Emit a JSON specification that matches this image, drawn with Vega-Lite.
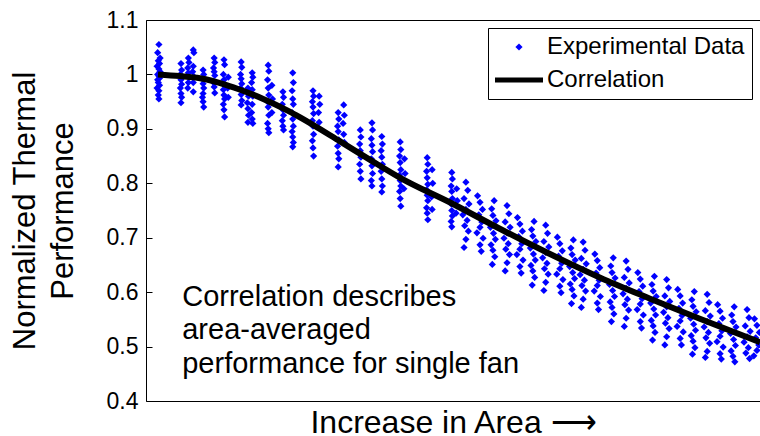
{
"$schema":"https://vega.github.io/schema/vega-lite/v6.json",
"autosize":{"type":"none"},
"padding":{"left":146,"top":20,"right":0,"bottom":35},
"width":614,
"height":381,
"background":"white",
"config":{"font":"Liberation Sans","view":{"stroke":null},"axis":{"labelColor":"black","titleColor":"black","titleFontWeight":"normal","grid":false,"domainColor":"black","tickColor":"black"}},
"datasets":{
"experimental":[
{"x":2.1,"y":1.055},{"x":1.9,"y":1.040},{"x":2.3,"y":1.030},{"x":2.0,"y":1.025},{"x":2.2,"y":1.020},{"x":1.8,"y":1.015},{"x":2.1,"y":1.010},{"x":2.3,"y":1.005},{"x":1.9,"y":1.000},{"x":2.1,"y":0.997},{"x":2.2,"y":0.993},{"x":1.9,"y":0.990},{"x":2.0,"y":0.985},{"x":2.2,"y":0.980},{"x":1.8,"y":0.975},{"x":2.1,"y":0.970},{"x":2.0,"y":0.962},{"x":2.1,"y":0.955},
{"x":5.7,"y":1.020},{"x":5.8,"y":1.008},{"x":5.6,"y":1.000},{"x":5.7,"y":0.990},{"x":5.8,"y":0.982},{"x":5.6,"y":0.975},{"x":5.7,"y":0.965},{"x":5.8,"y":0.958},{"x":5.7,"y":0.948},
{"x":6.9,"y":1.030},{"x":7.0,"y":1.022},{"x":6.8,"y":1.012},{"x":6.9,"y":1.003},{"x":7.0,"y":0.995},{"x":6.9,"y":0.985},{"x":6.8,"y":0.975},
{"x":7.7,"y":1.045},{"x":7.8,"y":1.040},{"x":7.7,"y":1.015},{"x":7.6,"y":1.005},{"x":7.8,"y":0.996},{"x":7.7,"y":0.985},{"x":7.7,"y":0.968},
{"x":9.3,"y":1.008},{"x":9.4,"y":1.000},{"x":9.2,"y":0.992},{"x":9.3,"y":0.983},{"x":9.4,"y":0.975},{"x":9.3,"y":0.965},{"x":9.2,"y":0.958},{"x":9.3,"y":0.950},{"x":9.4,"y":0.940},
{"x":11.1,"y":1.030},{"x":11.2,"y":1.022},{"x":11.0,"y":1.012},{"x":11.1,"y":1.005},{"x":11.2,"y":0.998},{"x":11.0,"y":0.985},{"x":11.1,"y":0.977},{"x":11.2,"y":0.966},
{"x":12.7,"y":1.027},{"x":12.8,"y":1.018},{"x":12.6,"y":1.000},{"x":12.7,"y":0.990},{"x":12.8,"y":0.980},{"x":12.6,"y":0.972},{"x":12.7,"y":0.962},{"x":12.8,"y":0.955},{"x":12.6,"y":0.945},{"x":12.7,"y":0.935},{"x":12.8,"y":0.922},
{"x":13.4,"y":0.995},{"x":13.3,"y":0.975},{"x":13.4,"y":0.958},
{"x":15.5,"y":1.023},{"x":15.6,"y":1.013},{"x":15.4,"y":1.000},{"x":15.5,"y":0.992},{"x":15.6,"y":0.983},{"x":15.4,"y":0.975},{"x":15.5,"y":0.963},{"x":15.6,"y":0.952},{"x":15.5,"y":0.944},
{"x":16.6,"y":0.975},{"x":16.7,"y":0.960},{"x":16.5,"y":0.948},{"x":16.6,"y":0.937},{"x":16.7,"y":0.925},{"x":16.6,"y":0.912},
{"x":17.3,"y":1.003},{"x":17.4,"y":0.995},{"x":17.2,"y":0.985},{"x":17.3,"y":0.972},{"x":17.4,"y":0.960},{"x":17.3,"y":0.945},{"x":17.2,"y":0.930},{"x":17.3,"y":0.918},{"x":17.4,"y":0.910},
{"x":19.9,"y":1.017},{"x":20.0,"y":1.006},{"x":19.8,"y":0.990},{"x":19.9,"y":0.975},{"x":20.0,"y":0.962},{"x":19.8,"y":0.950},{"x":19.9,"y":0.940},{"x":20.0,"y":0.925},{"x":19.8,"y":0.910},{"x":19.9,"y":0.900},{"x":20.0,"y":0.893},
{"x":20.5,"y":0.980},{"x":20.6,"y":0.955},{"x":20.5,"y":0.930},
{"x":22.3,"y":0.968},{"x":22.4,"y":0.958},{"x":22.2,"y":0.945},{"x":22.3,"y":0.935},{"x":22.4,"y":0.925},{"x":22.2,"y":0.915},{"x":22.3,"y":0.905},{"x":22.4,"y":0.898},
{"x":23.9,"y":1.003},{"x":24.0,"y":0.985},{"x":23.8,"y":0.970},{"x":23.9,"y":0.955},{"x":24.0,"y":0.945},{"x":23.8,"y":0.930},{"x":23.9,"y":0.918},{"x":24.0,"y":0.905},{"x":23.8,"y":0.895},{"x":23.9,"y":0.885},{"x":24.0,"y":0.875},{"x":23.9,"y":0.867},
{"x":27.2,"y":0.970},{"x":27.3,"y":0.960},{"x":27.1,"y":0.950},{"x":27.2,"y":0.940},{"x":27.3,"y":0.928},{"x":27.1,"y":0.915},{"x":27.2,"y":0.905},{"x":27.3,"y":0.890},{"x":27.1,"y":0.878},{"x":27.2,"y":0.865},{"x":27.3,"y":0.850},
{"x":28.2,"y":0.960},{"x":28.3,"y":0.945},{"x":28.1,"y":0.930},{"x":28.2,"y":0.912},
{"x":31.3,"y":0.930},{"x":31.4,"y":0.918},{"x":31.2,"y":0.905},{"x":31.3,"y":0.895},{"x":31.4,"y":0.880},{"x":31.2,"y":0.868},{"x":31.3,"y":0.855},{"x":31.4,"y":0.845},{"x":31.3,"y":0.830},
{"x":32.2,"y":0.944},{"x":32.3,"y":0.925},{"x":32.1,"y":0.910},{"x":32.2,"y":0.890},{"x":32.3,"y":0.875},
{"x":34.9,"y":0.898},{"x":35.0,"y":0.885},{"x":34.8,"y":0.872},{"x":34.9,"y":0.860},{"x":35.0,"y":0.848},{"x":34.8,"y":0.835},{"x":34.9,"y":0.822},{"x":35.0,"y":0.808},
{"x":36.8,"y":0.911},{"x":36.9,"y":0.898},{"x":36.7,"y":0.882},{"x":36.8,"y":0.870},{"x":36.9,"y":0.858},{"x":36.7,"y":0.845},{"x":36.8,"y":0.832},{"x":36.9,"y":0.818},{"x":36.7,"y":0.805},{"x":36.8,"y":0.795},
{"x":38.4,"y":0.886},{"x":38.5,"y":0.872},{"x":38.3,"y":0.860},{"x":38.4,"y":0.848},{"x":38.5,"y":0.835},{"x":38.3,"y":0.822},{"x":38.4,"y":0.808},{"x":38.5,"y":0.795},{"x":38.4,"y":0.784},
{"x":41.4,"y":0.876},{"x":41.5,"y":0.862},{"x":41.3,"y":0.850},{"x":41.4,"y":0.838},{"x":41.5,"y":0.825},{"x":41.3,"y":0.815},{"x":41.4,"y":0.805},{"x":41.5,"y":0.795},{"x":41.3,"y":0.785},{"x":41.4,"y":0.772},{"x":41.5,"y":0.758},
{"x":42.1,"y":0.845},{"x":42.2,"y":0.818},{"x":42.0,"y":0.790},
{"x":45.8,"y":0.847},{"x":45.9,"y":0.835},{"x":45.7,"y":0.822},{"x":45.8,"y":0.810},{"x":45.9,"y":0.798},{"x":45.7,"y":0.788},{"x":45.8,"y":0.778},{"x":45.9,"y":0.768},{"x":45.7,"y":0.755},{"x":45.8,"y":0.745},{"x":45.9,"y":0.733},
{"x":46.6,"y":0.825},{"x":46.7,"y":0.800},{"x":46.5,"y":0.775},{"x":46.6,"y":0.752},
{"x":49.8,"y":0.820},{"x":49.9,"y":0.808},{"x":49.7,"y":0.795},{"x":49.8,"y":0.785},{"x":49.9,"y":0.772},{"x":49.7,"y":0.762},{"x":49.8,"y":0.750},{"x":49.9,"y":0.740},{"x":49.7,"y":0.730},{"x":49.8,"y":0.720},
{"x":50.6,"y":0.790},{"x":50.7,"y":0.768},{"x":50.5,"y":0.745},
{"x":52.1,"y":0.802},{"x":52.4,"y":0.787},{"x":51.8,"y":0.772},{"x":52.6,"y":0.762},{"x":52.1,"y":0.752},{"x":51.6,"y":0.742},{"x":52.3,"y":0.732},{"x":51.9,"y":0.722},{"x":52.5,"y":0.712},{"x":52.1,"y":0.697},{"x":51.8,"y":0.682},
{"x":54.0,"y":0.777},{"x":54.4,"y":0.765},{"x":54.8,"y":0.752},{"x":54.2,"y":0.742},{"x":54.7,"y":0.729},{"x":54.4,"y":0.719},{"x":53.9,"y":0.709},{"x":54.9,"y":0.699},{"x":54.4,"y":0.687},{"x":54.6,"y":0.675},
{"x":56.7,"y":0.768},{"x":56.3,"y":0.753},{"x":56.5,"y":0.741},{"x":57.0,"y":0.731},{"x":56.1,"y":0.719},{"x":56.6,"y":0.708},{"x":56.9,"y":0.697},{"x":56.2,"y":0.687},{"x":56.5,"y":0.677},{"x":56.8,"y":0.665},{"x":56.4,"y":0.651},
{"x":58.8,"y":0.759},{"x":59.1,"y":0.744},{"x":58.5,"y":0.729},{"x":59.3,"y":0.719},{"x":58.8,"y":0.709},{"x":58.3,"y":0.699},{"x":59.0,"y":0.689},{"x":58.6,"y":0.679},{"x":59.2,"y":0.669},{"x":58.8,"y":0.654},{"x":58.5,"y":0.639},
{"x":60.5,"y":0.737},{"x":60.9,"y":0.725},{"x":61.3,"y":0.712},{"x":60.7,"y":0.702},{"x":61.2,"y":0.689},{"x":60.9,"y":0.679},{"x":60.4,"y":0.669},{"x":61.4,"y":0.659},{"x":60.9,"y":0.647},{"x":61.1,"y":0.635},
{"x":63.2,"y":0.730},{"x":62.8,"y":0.715},{"x":63.0,"y":0.703},{"x":63.5,"y":0.693},{"x":62.6,"y":0.681},{"x":63.1,"y":0.670},{"x":63.4,"y":0.659},{"x":62.7,"y":0.649},{"x":63.0,"y":0.639},{"x":63.3,"y":0.627},{"x":62.9,"y":0.613},
{"x":65.1,"y":0.723},{"x":65.4,"y":0.708},{"x":64.8,"y":0.693},{"x":65.6,"y":0.683},{"x":65.1,"y":0.673},{"x":64.6,"y":0.663},{"x":65.3,"y":0.653},{"x":64.9,"y":0.643},{"x":65.5,"y":0.633},{"x":65.1,"y":0.618},{"x":64.8,"y":0.603},
{"x":67.0,"y":0.701},{"x":67.4,"y":0.689},{"x":67.8,"y":0.676},{"x":67.2,"y":0.666},{"x":67.7,"y":0.653},{"x":67.4,"y":0.643},{"x":66.9,"y":0.633},{"x":67.9,"y":0.623},{"x":67.4,"y":0.611},{"x":67.6,"y":0.599},
{"x":69.6,"y":0.696},{"x":69.2,"y":0.681},{"x":69.4,"y":0.669},{"x":69.9,"y":0.659},{"x":69.0,"y":0.647},{"x":69.5,"y":0.636},{"x":69.8,"y":0.625},{"x":69.1,"y":0.615},{"x":69.4,"y":0.605},{"x":69.7,"y":0.593},{"x":69.3,"y":0.579},
{"x":71.2,"y":0.692},{"x":71.5,"y":0.677},{"x":70.9,"y":0.662},{"x":71.7,"y":0.652},{"x":71.2,"y":0.642},{"x":70.7,"y":0.632},{"x":71.4,"y":0.622},{"x":71.0,"y":0.612},{"x":71.6,"y":0.602},{"x":71.2,"y":0.587},{"x":70.9,"y":0.572},
{"x":73.1,"y":0.670},{"x":73.5,"y":0.658},{"x":73.9,"y":0.645},{"x":73.3,"y":0.635},{"x":73.8,"y":0.622},{"x":73.5,"y":0.612},{"x":73.0,"y":0.602},{"x":74.0,"y":0.592},{"x":73.5,"y":0.580},{"x":73.7,"y":0.568},
{"x":76.1,"y":0.663},{"x":75.7,"y":0.648},{"x":75.9,"y":0.636},{"x":76.4,"y":0.626},{"x":75.5,"y":0.614},{"x":76.0,"y":0.603},{"x":76.3,"y":0.592},{"x":75.6,"y":0.582},{"x":75.9,"y":0.572},{"x":76.2,"y":0.560},{"x":75.8,"y":0.546},
{"x":78.2,"y":0.657},{"x":78.5,"y":0.642},{"x":77.9,"y":0.627},{"x":78.7,"y":0.617},{"x":78.2,"y":0.607},{"x":77.7,"y":0.597},{"x":78.4,"y":0.587},{"x":78.0,"y":0.577},{"x":78.6,"y":0.567},{"x":78.2,"y":0.552},{"x":77.9,"y":0.537},
{"x":80.1,"y":0.636},{"x":80.5,"y":0.624},{"x":80.9,"y":0.611},{"x":80.3,"y":0.601},{"x":80.8,"y":0.588},{"x":80.5,"y":0.578},{"x":80.0,"y":0.568},{"x":81.0,"y":0.558},{"x":80.5,"y":0.546},{"x":80.7,"y":0.534},
{"x":82.8,"y":0.629},{"x":82.4,"y":0.614},{"x":82.6,"y":0.602},{"x":83.1,"y":0.592},{"x":82.2,"y":0.580},{"x":82.7,"y":0.569},{"x":83.0,"y":0.558},{"x":82.3,"y":0.548},{"x":82.6,"y":0.538},{"x":82.9,"y":0.526},{"x":82.5,"y":0.512},
{"x":84.8,"y":0.623},{"x":85.1,"y":0.608},{"x":84.5,"y":0.593},{"x":85.3,"y":0.583},{"x":84.8,"y":0.573},{"x":84.3,"y":0.563},{"x":85.0,"y":0.553},{"x":84.6,"y":0.543},{"x":85.2,"y":0.533},{"x":84.8,"y":0.518},{"x":84.5,"y":0.503},
{"x":86.6,"y":0.605},{"x":87.0,"y":0.593},{"x":87.4,"y":0.580},{"x":86.8,"y":0.570},{"x":87.3,"y":0.557},{"x":87.0,"y":0.547},{"x":86.5,"y":0.537},{"x":87.5,"y":0.527},{"x":87.0,"y":0.515},{"x":87.2,"y":0.503},
{"x":89.3,"y":0.601},{"x":88.9,"y":0.586},{"x":89.1,"y":0.574},{"x":89.6,"y":0.564},{"x":88.7,"y":0.552},{"x":89.2,"y":0.541},{"x":89.5,"y":0.530},{"x":88.8,"y":0.520},{"x":89.1,"y":0.510},{"x":89.4,"y":0.498},{"x":89.0,"y":0.486},
{"x":91.4,"y":0.596},{"x":91.7,"y":0.581},{"x":91.1,"y":0.566},{"x":91.9,"y":0.556},{"x":91.4,"y":0.546},{"x":90.9,"y":0.536},{"x":91.6,"y":0.526},{"x":91.2,"y":0.516},{"x":91.8,"y":0.506},{"x":91.4,"y":0.491},{"x":91.1,"y":0.480},
{"x":93.1,"y":0.577},{"x":93.5,"y":0.565},{"x":93.9,"y":0.552},{"x":93.3,"y":0.542},{"x":93.8,"y":0.529},{"x":93.5,"y":0.519},{"x":93.0,"y":0.509},{"x":94.0,"y":0.499},{"x":93.5,"y":0.487},{"x":93.7,"y":0.477},
{"x":95.8,"y":0.573},{"x":95.4,"y":0.558},{"x":95.6,"y":0.546},{"x":96.1,"y":0.536},{"x":95.2,"y":0.524},{"x":95.7,"y":0.513},{"x":96.0,"y":0.502},{"x":95.3,"y":0.492},{"x":95.6,"y":0.482},{"x":95.9,"y":0.472},
{"x":97.9,"y":0.568},{"x":98.2,"y":0.553},{"x":97.6,"y":0.538},{"x":98.4,"y":0.528},{"x":97.9,"y":0.518},{"x":97.4,"y":0.508},{"x":98.1,"y":0.498},{"x":97.7,"y":0.488},{"x":98.3,"y":0.478},
{"x":99.1,"y":0.551},{"x":99.5,"y":0.539},{"x":99.9,"y":0.526},{"x":99.3,"y":0.516},{"x":99.8,"y":0.503},{"x":99.5,"y":0.493},{"x":99.0,"y":0.483}
],
"correlation":[
{"x":1.95,"y":1.000},{"x":5.5,"y":0.997},{"x":8.8,"y":0.993},{"x":13.0,"y":0.981},{"x":15.8,"y":0.970},{"x":19.1,"y":0.955},{"x":23.0,"y":0.934},{"x":25.1,"y":0.921},{"x":31.6,"y":0.877},{"x":36.5,"y":0.843},{"x":41.4,"y":0.810},{"x":50.0,"y":0.762},{"x":57.7,"y":0.716},{"x":65.8,"y":0.670},{"x":73.9,"y":0.627},{"x":82.1,"y":0.588},{"x":90.2,"y":0.551},{"x":100,"y":0.508}
],
"note":[{"x":5.9,"y":0.575,"label":"Correlation describes\narea-averaged\nperformance for single fan"}]
},
"layer":[
{
"data":{"name":"experimental"},
"mark":{"type":"point","filled":true,"size":576,"opacity":1},
"encoding":{
"x":{"field":"x","type":"quantitative","scale":{"domain":[0,100],"nice":false,"zero":false},
"axis":{"orient":"bottom","title":"Increase in Area ⟶","titleFontSize":32,"titlePadding":6,"labels":false,"ticks":false,"domain":true}},
"y":{"field":"y","type":"quantitative","scale":{"domain":[0.4,1.1],"nice":false,"zero":false},
"axis":{"values":[0.4,0.5,0.6,0.7,0.8,0.9,1.0,1.1],"format":".2~f","labelFontSize":23,"tickSize":-6,"labelPadding":14,"domain":true,
"title":["Normalized Thermal","Performance"],"titleFontSize":31,"titleLineHeight":38,"titlePadding":27}},
"color":{"datum":"Experimental Data","type":"nominal","scale":{"domain":["Experimental Data","Correlation"],"range":["#0000ff","#000000"]},
"legend":{"title":null,"orient":"none","legendX":342,"legendY":8,"padding":7,"strokeColor":"black","fillColor":"white","labelFontSize":24,"labelColor":"black","symbolSize":576,"symbolOffset":12,"labelOffset":16,"rowPadding":9,"symbolStrokeWidth":0,"labelLimit":400}},
"shape":{"datum":"Experimental Data","type":"nominal","scale":{"domain":["Experimental Data","Correlation"],"range":["M0,-0.3L0.3,0L0,0.3L-0.3,0Z","M-2,-0.21L2,-0.21L2,0.21L-2,0.21Z"]},
"legend":{"title":null,"orient":"none","legendX":342,"legendY":8,"padding":7,"strokeColor":"black","fillColor":"white","labelFontSize":24,"labelColor":"black","symbolSize":576,"symbolOffset":12,"labelOffset":16,"rowPadding":9,"symbolStrokeWidth":0,"labelLimit":400}}
}
},
{
"data":{"name":"correlation"},
"mark":{"type":"line","color":"black","strokeWidth":6,"interpolate":"monotone"},
"encoding":{
"x":{"field":"x","type":"quantitative","axis":{"orient":"top","title":null,"labels":false,"ticks":false,"domain":true}},
"y":{"field":"y","type":"quantitative"}
}
},
{
"data":{"name":"note"},
"mark":{"type":"text","align":"left","baseline":"alphabetic","fontSize":29,"lineHeight":33.5,"lineBreak":"\n","color":"black"},
"encoding":{
"x":{"field":"x","type":"quantitative","axis":null},
"y":{"field":"y","type":"quantitative"},
"text":{"field":"label"}
}
}
],
"resolve":{"axis":{"x":"independent"}}
}
